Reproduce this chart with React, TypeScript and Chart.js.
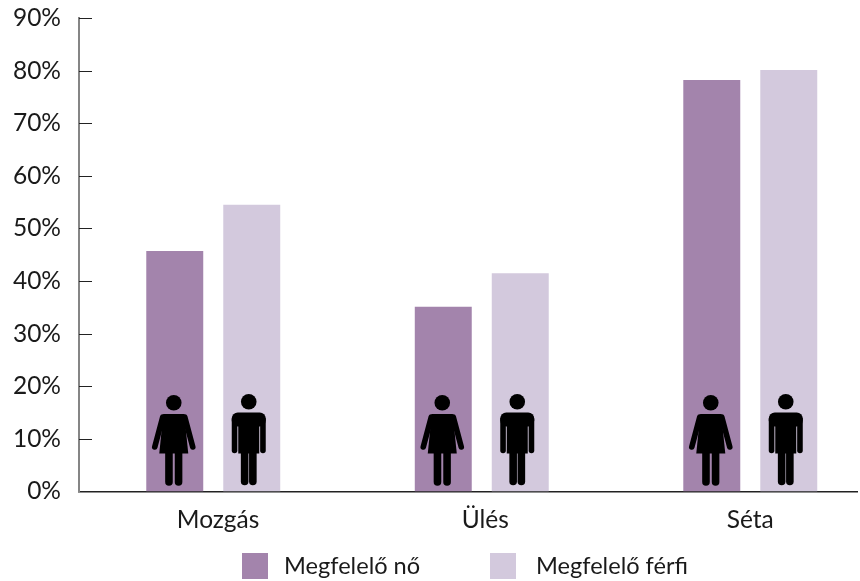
import React, { useEffect, useRef } from "react";
import { Chart, registerables } from "chart.js";

Chart.register(...registerables);

const categories = ["Mozgás", "Ülés", "Séta"];
const labelPositions = [0.018, 1.013, 2];
const womenValues = [45.7, 35.1, 78.2];
const menValues = [54.5, 41.5, 80.1];
const seriesNames = ["Megfelelő nő", "Megfelelő férfi"];
const yTicks = [0, 10, 20, 30, 40, 50, 60, 70, 80, 90];

const WOMEN_COLOR = "#a384ac";
const MEN_COLOR = "#d3c9dd";
const FONT = "Lato, sans-serif";

type Ctx = CanvasRenderingContext2D;

function stroke(ctx: Ctx, x1: number, y1: number, x2: number, y2: number, w: number) {
  ctx.lineWidth = w;
  ctx.lineCap = "round";
  ctx.beginPath();
  ctx.moveTo(x1, y1);
  ctx.lineTo(x2, y2);
  ctx.stroke();
}

// Pictogram of a woman, standing on the line y = 0 of the local coordinates
function drawWoman(ctx: Ctx) {
  ctx.beginPath();
  ctx.arc(0, -88.7, 7.8, 0, Math.PI * 2);
  ctx.fill();
  ctx.beginPath();
  ctx.moveTo(-10.5, -77.5);
  ctx.lineTo(10.5, -77.5);
  ctx.lineTo(14.5, -38);
  ctx.lineTo(-14.5, -38);
  ctx.closePath();
  ctx.fill();
  for (const s of [-1, 1]) {
    stroke(ctx, s * 11, -74.5, s * 19, -44.5, 5.6);
    stroke(ctx, s * 4.8, -40, s * 4.8, -9.5, 7.6);
  }
}

// Pictogram of a man, standing on the line y = 0 of the local coordinates
function drawMan(ctx: Ctx) {
  ctx.beginPath();
  ctx.arc(0, -89.7, 7.8, 0, Math.PI * 2);
  ctx.fill();
  ctx.beginPath();
  ctx.roundRect(-17, -79, 34, 14, 6);
  ctx.fill();
  ctx.fillRect(-10.5, -70, 21, 32);
  for (const s of [-1, 1]) {
    stroke(ctx, s * 14.2, -72, s * 14.2, -41, 5.6);
    stroke(ctx, s * 4.1, -40, s * 4.1, -10, 7.6);
  }
}

// Short tick marks inside the plot, next to the vertical axis
const innerTicks = {
  id: "innerTicks",
  beforeDatasetsDraw(chart: any) {
    const { ctx, scales } = chart;
    ctx.save();
    ctx.strokeStyle = "#222222";
    ctx.lineWidth = 1;
    for (const v of yTicks.slice(1)) {
      const y = Math.round(scales.y.getPixelForValue(v)) + 0.5;
      ctx.beginPath();
      ctx.moveTo(scales.x.left, y);
      ctx.lineTo(scales.x.left + 13, y);
      ctx.stroke();
    }
    ctx.restore();
  },
};

// Places one pictogram at the foot of every bar
const pictograms = {
  id: "pictograms",
  afterDatasetsDraw(chart: any) {
    const { ctx, scales } = chart;
    const base = scales.y.getPixelForValue(0);
    ctx.save();
    ctx.fillStyle = "#000000";
    ctx.strokeStyle = "#000000";
    chart.getDatasetMeta(0).data.forEach((bar: any) => {
      ctx.save();
      ctx.translate(bar.x - 1, base);
      drawWoman(ctx);
      ctx.restore();
    });
    chart.getDatasetMeta(1).data.forEach((bar: any) => {
      ctx.save();
      ctx.translate(bar.x - 3, base);
      drawMan(ctx);
      ctx.restore();
    });
    ctx.restore();
  },
};

export default function App() {
  const ref = useRef<HTMLCanvasElement>(null);

  useEffect(() => {
    document.body.style.margin = "0";
    const chart = new Chart(ref.current!, {
      type: "bar",
      data: {
        datasets: [
          {
            label: seriesNames[0],
            data: womenValues.map((y, x) => ({ x, y })),
            backgroundColor: WOMEN_COLOR,
            categoryPercentage: 0.581,
            barPercentage: 0.74,
          },
          {
            label: seriesNames[1],
            data: menValues.map((y, x) => ({ x, y })),
            backgroundColor: MEN_COLOR,
            categoryPercentage: 0.581,
            barPercentage: 0.74,
          },
        ],
      },
      options: {
        animation: false,
        responsive: false,
        layout: { autoPadding: false, padding: { top: 18, right: 3, left: 0, bottom: 0 } },
        plugins: { legend: { display: false }, tooltip: { enabled: false } },
        scales: {
          x: {
            type: "linear",
            offset: false,
            min: -0.5,
            max: 2.3975,
            grid: { display: false, drawTicks: false, offset: false },
            border: { display: true, color: "#222222", width: 1.5 },
            afterBuildTicks: (scale: any) => {
              scale.ticks = labelPositions.map((value) => ({ value }));
            },
            afterFit: (scale: any) => {
              scale.height = 89.5;
            },
            ticks: {
              autoSkip: false,
              maxRotation: 0,
              padding: 14,
              color: "#1a1a1a",
              font: { family: FONT, size: 24.5 },
              callback: (value: any) => categories[labelPositions.indexOf(value)],
            },
          },
          y: {
            min: 0,
            max: 90,
            grid: { display: false, drawTicks: false },
            border: { display: true, color: "#858585", width: 2 },
            afterBuildTicks: (scale: any) => {
              scale.ticks = yTicks.map((value) => ({ value }));
            },
            afterFit: (scale: any) => {
              scale.width = 79;
              scale.paddingTop = 0;
              scale.paddingBottom = 0;
            },
            ticks: {
              padding: 18,
              color: "#1a1a1a",
              font: { family: FONT, size: 24.5 },
              callback: (value: any) => `${value}%`,
            },
          },
        },
      },
      plugins: [innerTicks, pictograms],
    } as any);
    return () => chart.destroy();
  }, []);

  const legendText: React.CSSProperties = {
    position: "absolute",
    top: 551,
    height: 28,
    lineHeight: "28px",
    fontFamily: FONT,
    fontSize: 23.6,
    color: "#1a1a1a",
    whiteSpace: "nowrap",
  };
  const swatch = (left: number, background: string): React.CSSProperties => ({
    position: "absolute",
    left,
    top: 553,
    width: 26,
    height: 26,
    background,
  });

  return (
    <div style={{ position: "relative", width: 860, height: 581, overflow: "hidden", background: "#fff" }}>
      <canvas ref={ref} width={860} height={581} style={{ display: "block" }} />
      <div style={swatch(242, WOMEN_COLOR)} />
      <div style={{ ...legendText, left: 284 }}>{seriesNames[0]}</div>
      <div style={swatch(490, MEN_COLOR)} />
      <div style={{ ...legendText, left: 536 }}>{seriesNames[1]}</div>
    </div>
  );
}
